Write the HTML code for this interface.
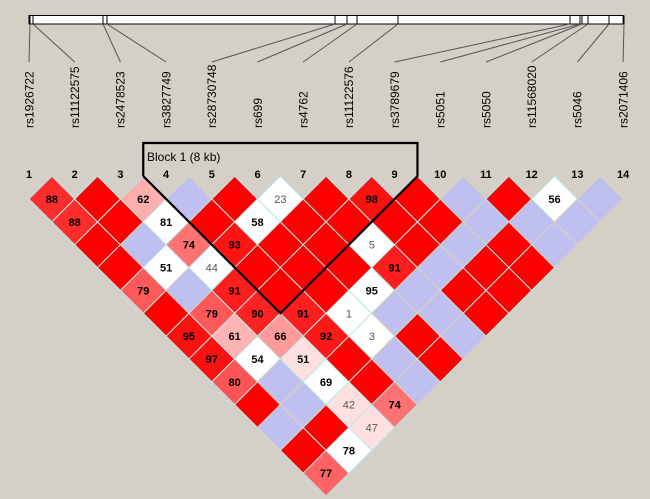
<!DOCTYPE html>
<html><head><meta charset="utf-8"><style>
body{margin:0;background:#d4d0c8;}
svg{display:block;font-family:"Liberation Sans",Arial,sans-serif;}
</style></head><body>
<svg id="chart" width="650" height="499" viewBox="0 0 650 499" xmlns="http://www.w3.org/2000/svg">
<rect x="0" y="0" width="650" height="499" fill="#d4d0c8"/>
<g id="bar"></g>
<g id="links"></g>
<g id="names"></g>
<g id="nums"></g>
<g id="cells"></g>
<g id="block">
<text x="147" y="161" font-size="12" fill="#000">Block 1 (8 kb)</text>
</g>
</svg>
<script>
const snpNames = ["rs1926722","rs11122575","rs2478523","rs3827749","rs28730748","rs699","rs4762","rs11122576","rs3789679","rs5051","rs5050","rs11568020","rs5046","rs2071406"];
const physPos = [30,33,103,107,335,347,357,398,570,580,582,588,609,624];
// D' values, row by row (i<j), null = unlabeled
const dprime = [
88,88,null,null,79,null,95,97,80,null,null,null,77,
null,null,null,51,null,79,61,54,null,null,null,78,
62,81,74,44,91,90,66,51,69,42,47,
null,null,93,null,null,91,92,null,null,74,
null,58,null,null,null,1,3,null,null,
23,null,null,null,95,null,null,null,
null,null,5,91,null,null,null,
98,null,null,null,null,null,
null,null,null,null,null,
null,null,null,null,
null,null,null,
56,null,
null];
// R = strong LD red, P = shaded pink, W = white, B = blue (low LOD)
const ldClass = [
"P","P","R","R","P","R","P","P","P","R","B","R","P",
"R","R","B","W","B","P","P","W","B","B","R","W",
"P","W","P","W","P","P","P","P","W","P","P",
"B","R","P","R","R","P","P","R","R","P",
"R","W","R","R","R","W","W","B","B",
"W","R","R","R","W","B","R","R",
"R","R","W","P","B","B","B",
"P","R","R","B","R","R",
"R","R","B","R","R",
"B","B","R","R",
"R","B","B",
"W","B",
"B"];
const blockStart = 4, blockEnd = 9;

const NS="http://www.w3.org/2000/svg";
const n = snpNames.length;
const step = 45.7, x0 = 29, y0 = 199, h = step/2;
const xPos = k => x0 + (k-1)*step;
const cellX = (i,j) => (xPos(i)+xPos(j))/2;
const cellY = (i,j) => y0 + (j-i-1)*h;
function mk(tag, attrs, parent){const e=document.createElementNS(NS,tag);for(const k in attrs)e.setAttribute(k,attrs[k]);parent.appendChild(e);return e;}

const bar=document.getElementById('bar');
const barEl = mk('rect',{x:xPos(1),y:15.5,width:xPos(n)-xPos(1),height:8.5,fill:'#fff',stroke:'#000','stroke-width':1},bar);


const links=document.getElementById('links');
const names=document.getElementById('names');
const nums=document.getElementById('nums');
physPos.forEach((p,k)=>{
  const t=mk('line',{x1:p,y1:15.5,x2:p,y2:24,stroke:'#000','stroke-width':1},bar);
  
  
  const l=mk('line',{x1:p,y1:24,x2:xPos(k+1),y2:62,stroke:'#555','stroke-width':1},links);
  
  
  const lx=xPos(k+1);
  const tx=mk('text',{x:lx,y:128,transform:`rotate(-90 ${lx} 128)`,dy:'0.36em','font-size':12,fill:'#000'},names);
  tx.textContent=snpNames[k];
  
  
  const nm=mk('text',{x:lx,y:178,'text-anchor':'middle','font-size':11,'font-weight':'bold',fill:'#000'},nums);
  nm.textContent=String(k+1);
  
  
});

const cells=document.getElementById('cells');
function pinkFill(v){const g=Math.max(16,Math.min(224,Math.round(224-(v-52)*5)));return `rgb(255,${g},${g})`;}
let idx=0;
for(let i=1;i<n;i++){for(let j=i+1;j<=n;j++){
  const v=dprime[idx], c=ldClass[idx]; idx++;
  const cx=cellX(i,j), cy=cellY(i,j);
  let fill = c==='R'?'#ff0000':c==='B'?'#bfbff0':c==='W'?'#ffffff':pinkFill(v==null?90:v);
  const stroke = c==='B'?'#d8d4b8':'#b8e8e8';
  const d=mk('polygon',{points:`${cx},${cy-h} ${cx+h},${cy} ${cx},${cy+h} ${cx-h},${cy}`,fill:fill,stroke:stroke,'stroke-width':1},cells);
  
  
  if(v!=null){
    const low=v<50;
    const t=mk('text',{x:cx,y:cy+4,'text-anchor':'middle','font-size':11,'font-weight':low?'normal':'bold',fill:low?'#555':'#000'},cells);
    t.textContent=String(v);
    
    
  }
}}

const blk=document.getElementById('block');
const lx=xPos(blockStart)-h, rx=xPos(blockEnd)+h;
const bx=cellX(blockStart,blockEnd), by=cellY(blockStart,blockEnd)+h;
const topY=143, sideY=by-(bx-lx);
const p=mk('polyline',{points:`${lx},${sideY} ${lx},${topY} ${rx},${topY} ${rx},${sideY} ${bx},${by} ${lx},${sideY}`,fill:'none',stroke:'#000','stroke-width':2.2},blk);


</script>
</body></html>
